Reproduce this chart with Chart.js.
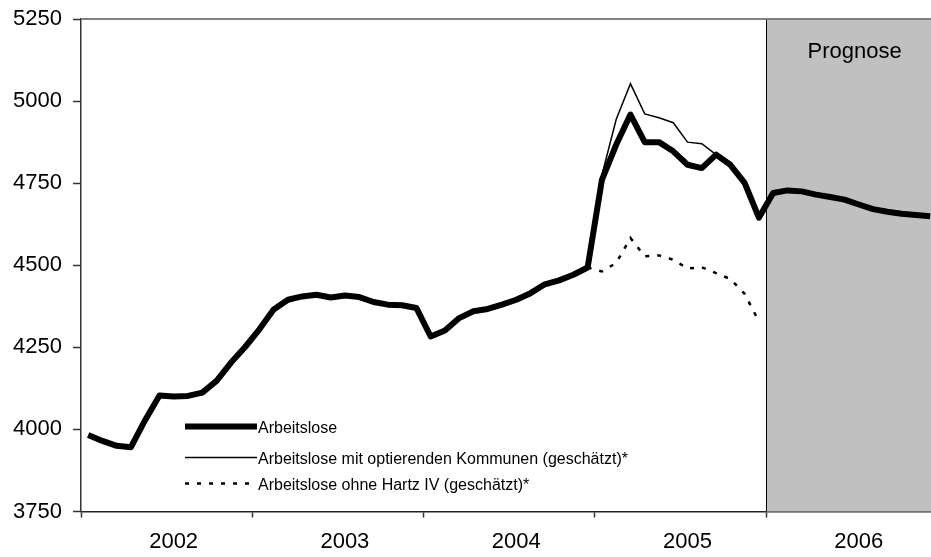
<!DOCTYPE html>
<html lang="de">
<head>
<meta charset="utf-8">
<title>Arbeitslose</title>
<script src="https://cdn.jsdelivr.net/npm/chart.js@4/dist/chart.umd.min.js"></script>
<style>
  html, body { margin: 0; padding: 0; background: #fff; overflow: hidden; }
  #wrap { width: 931px; height: 557px; position: relative; }
</style>
</head>
<body>
<div id="wrap"><canvas id="chart"></canvas></div>
<script>
// Jahre (je 12 Monate, Jan 2002 - Dez 2006)
const years = ['2002', '2003', '2004', '2005', '2006'];

// Arbeitslose in Tausend, monatlich
const arbeitslose = [
  3983, 3965, 3950, 3946, 4029, 4103, 4100, 4102, 4112, 4148, 4203, 4251,
  4305, 4365, 4395, 4405, 4410, 4402, 4408, 4403, 4388, 4380, 4378, 4370,
  4283, 4301, 4339, 4360, 4367, 4380, 4395, 4415, 4442, 4454, 4471, 4493,
  4760, 4867, 4959, 4875, 4875, 4847, 4806, 4796, 4837, 4806, 4751, 4645,
  4720, 4728, 4725, 4715, 4708, 4700, 4685, 4671, 4663, 4657, 4653, 4649
];

// Schätzungen ab Dez 2004 (Monatsindex 35)
const schaetzungStart = 35;
const mitOptierenden = [4493, 4775, 4944, 5053, 4961, 4949, 4934, 4875, 4870, 4837, 4806, 4751, 4645];
const ohneHartzIV = [4493, 4481, 4507, 4583, 4527, 4530, 4517, 4490, 4494, 4476, 4458, 4413, 4329];

// Prognose beginnt mit Jan 2006
const prognoseStart = 48;

const yTicks = [3750, 4000, 4250, 4500, 4750, 5000, 5250];

const FONT = '"Liberation Sans", Arial, sans-serif';

function toPoints(values, start) {
  return values.map((v, i) => ({ x: start + i, y: v }));
}

const legendLabels = [
  'Arbeitslose',
  'Arbeitslose mit optierenden Kommunen (geschätzt)*',
  'Arbeitslose ohne Hartz IV (geschätzt)*'
];

// Prognose-Fläche, Rahmen oben
const backgroundPlugin = {
  id: 'prognose',
  beforeDatasetsDraw(chart) {
    const { ctx, chartArea, scales } = chart;
    const x0 = scales.x.getPixelForValue(prognoseStart - 0.5);
    ctx.save();
    ctx.fillStyle = '#c0c0c0';
    ctx.fillRect(x0, chartArea.top, chartArea.right - x0, chartArea.bottom - chartArea.top);
    ctx.strokeStyle = '#000';
    ctx.lineWidth = 1;
    ctx.beginPath();
    ctx.moveTo(Math.round(x0) + 0.5, chartArea.top);
    ctx.lineTo(Math.round(x0) + 0.5, chartArea.bottom);
    ctx.stroke();
    ctx.strokeStyle = '#808080';
    ctx.lineWidth = 2;
    ctx.beginPath();
    ctx.moveTo(chartArea.left, chartArea.top);
    ctx.lineTo(chartArea.right, chartArea.top);
    ctx.stroke();
    ctx.fillStyle = '#000';
    ctx.font = '22px ' + FONT;
    ctx.textAlign = 'center';
    ctx.textBaseline = 'middle';
    const xc = scales.x.getPixelForValue(prognoseStart + 5.5) + 3;
    ctx.fillText('Prognose', xc, chartArea.top + 33);
    ctx.restore();
  }
};

// Legende im Diagramm unten links
const legendPlugin = {
  id: 'innerLegend',
  afterDraw(chart) {
    const { ctx, chartArea } = chart;
    const sx0 = chartArea.left + 104;
    const sx1 = chartArea.left + 176;
    const rows = [chartArea.bottom - 85, chartArea.bottom - 54, chartArea.bottom - 28];
    ctx.save();
    chart.data.datasets.forEach((ds, i) => {
      const y = rows[i];
      ctx.strokeStyle = ds.borderColor;
      ctx.lineWidth = ds.borderWidth;
      ctx.setLineDash(ds.borderDash || []);
      ctx.lineCap = 'butt';
      ctx.beginPath();
      ctx.moveTo(sx0, y);
      ctx.lineTo(sx1, y);
      ctx.stroke();
      ctx.setLineDash([]);
      ctx.fillStyle = '#000';
      ctx.font = '16px ' + FONT;
      ctx.textAlign = 'left';
      ctx.textBaseline = 'middle';
      ctx.fillText(legendLabels[i], sx1 + 1, y + 2);
    });
    ctx.restore();
  }
};

const isBoundary = v => Math.abs(((v + 0.5) % 12)) < 1e-6;

const ctx = document.getElementById('chart').getContext('2d');

new Chart(ctx, {
  type: 'line',
  data: {
    datasets: [
      {
        label: legendLabels[0],
        data: toPoints(arbeitslose, 0),
        borderColor: '#000',
        borderWidth: 6,
        borderJoinStyle: 'round',
        pointRadius: 0,
        tension: 0,
        fill: false,
        order: 0
      },
      {
        label: legendLabels[1],
        data: toPoints(mitOptierenden, schaetzungStart),
        borderColor: '#000',
        borderWidth: 1.5,
        pointRadius: 0,
        tension: 0,
        fill: false,
        order: 1
      },
      {
        label: legendLabels[2],
        data: toPoints(ohneHartzIV, schaetzungStart),
        borderColor: '#000',
        borderWidth: 2.5,
        borderDash: [4, 8],
        pointRadius: 0,
        tension: 0,
        fill: false,
        order: 2
      }
    ]
  },
  options: {
    responsive: true,
    maintainAspectRatio: false,
    animation: false,
    layout: { padding: { top: 19, right: 0, bottom: 0, left: 0 } },
    plugins: {
      legend: { display: false },
      tooltip: { enabled: false }
    },
    scales: {
      x: {
        type: 'linear',
        min: -0.5,
        max: 59.06,
        afterBuildTicks(scale) {
          const ticks = [];
          for (let v = -0.5; v <= scale.max; v += 6) ticks.push({ value: v });
          scale.ticks = ticks;
        },
        afterFit(scale) {
          scale.height = 45.5;
          scale.paddingLeft = 0;
          scale.paddingRight = 0;
        },
        ticks: {
          autoSkip: false,
          maxRotation: 0,
          padding: 11,
          labelOffset: 7,
          color: '#000',
          font: { size: 22, family: FONT },
          callback: v => isBoundary(v) ? '' : years[Math.round((v - 5.5) / 12)]
        },
        grid: {
          drawOnChartArea: false,
          tickLength: 6,
          tickWidth: 1.5,
          tickColor: c => isBoundary(c.tick.value) ? '#333' : 'rgba(0,0,0,0)'
        },
        border: { display: true, color: '#222', width: 1.5 }
      },
      y: {
        min: 3750,
        max: 5250,
        afterBuildTicks(scale) {
          scale.ticks = yTicks.map(v => ({ value: v }));
        },
        afterFit(scale) {
          scale.width = 81;
          scale.paddingTop = 0;
          scale.paddingBottom = 0;
        },
        ticks: {
          padding: 11,
          color: '#000',
          font: { size: 22, family: FONT },
          callback: v => String(v)
        },
        grid: {
          drawOnChartArea: false,
          tickLength: 8,
          tickWidth: 1.5,
          tickColor: '#333'
        },
        border: { display: true, color: '#333', width: 1.5 }
      }
    }
  },
  plugins: [backgroundPlugin, legendPlugin]
});
</script>
</body>
</html>
